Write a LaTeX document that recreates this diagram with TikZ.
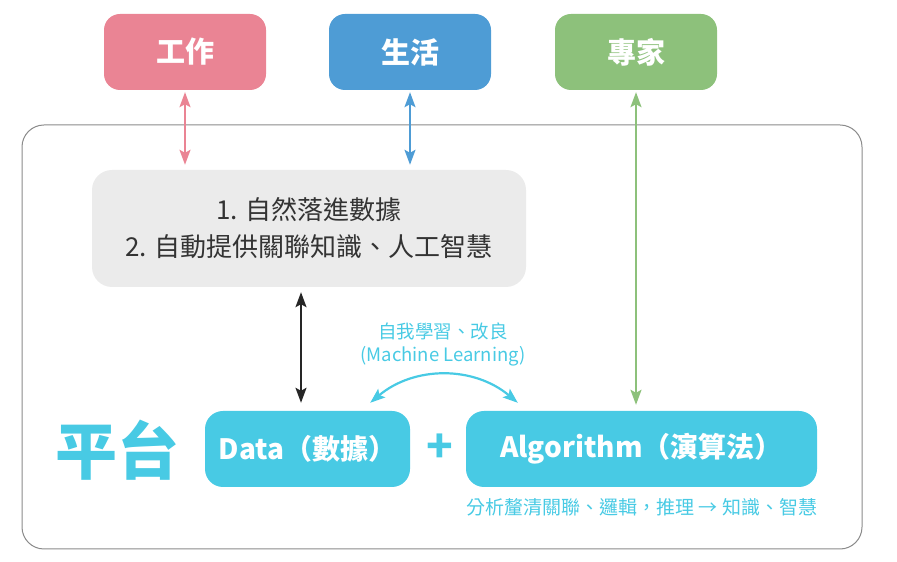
\documentclass[tikz,border=0pt]{standalone}
\usepackage{fontspec}
\setmainfont{Noto Sans CJK TC}
\usetikzlibrary{arrows.meta,positioning}
\definecolor{workpink}{HTML}{EA8494}
\definecolor{lifeblue}{HTML}{4E9CD5}
\definecolor{expertgreen}{HTML}{8DC17B}
\definecolor{platcyan}{HTML}{48CAE4}
\definecolor{greybox}{HTML}{EBEBEB}
\definecolor{framegrey}{HTML}{8A8A8A}

\tikzset{
  topbox/.style={rounded corners=16pt, minimum width=162pt, minimum height=76pt,
    text=white, font=\fontsize{29}{32}\selectfont\bfseries},
  platbox/.style={fill=platcyan, rounded corners=18pt, minimum height=76pt,
    text=white, font=\fontsize{28}{32}\selectfont\bfseries},
  link/.style={line width=2pt, {Stealth[length=15pt,width=11pt,inset=3pt]}-{Stealth[length=15pt,width=11pt,inset=3pt]}}
}

\begin{document}
\begin{tikzpicture}[x=1pt,y=1pt]
\useasboundingbox (0,0) rectangle (897,562);
\draw[framegrey, line width=1pt, rounded corners=22pt] (22,13) rectangle (862,437);

\node[topbox, fill=workpink] (work) at (185,510) {工作};
\node[topbox, fill=lifeblue] (life) at (410,510) {生活};
\node[topbox, fill=expertgreen] (expert) at (636,510) {專家};

\node[fill=greybox, rounded corners=20pt, minimum width=434pt, minimum height=117pt,
  align=center, text=black!80, font=\fontsize{26}{37}\selectfont] (info) at (309,333.5)
  {1. 自然落進數據\\2. 自動提供關聯知識、人工智慧};

\node[platbox, minimum width=205pt] (data) at (307.5,113) {Data（數據）};
\node[platbox, minimum width=351pt] (algo) at (641.5,113) {Algorithm（演算法）};
\node[text=platcyan, font=\fontsize{62}{62}\selectfont\bfseries] (plat) at (117,112) {平台};
\node[text=platcyan, font=\fontsize{44}{44}\selectfont\bfseries] (plus) at (440,114) {+};

\node[text=platcyan, align=center, font=\fontsize{18.5}{23}\selectfont] (ml) at (443,218)
  {自我學習、改良\\(Machine Learning)};
\node[text=platcyan, font=\fontsize{19}{22}\selectfont] (result) at (642,55)
  {分析釐清關聯、邏輯，推理 → 知識、智慧};

% connectors
\draw[link, workpink, shorten <=2pt, shorten >=5pt] (work.south) -- (work.south |- info.north);
\draw[link, lifeblue, shorten <=2pt, shorten >=5pt] (life.south) -- (life.south |- info.north);
\draw[link, expertgreen, shorten <=2pt, shorten >=6pt] (expert.south) -- (expert.south |- algo.north);
\draw[link, black!85, shorten <=5pt, shorten >=8pt] ([xshift=-8pt]info.south) -- ([xshift=-8pt]info.south |- data.north);
\draw[link, platcyan, line width=2.2pt] ([xshift=-40pt,yshift=8pt]data.north east) to[bend left=40] ([xshift=52pt,yshift=8pt]algo.north west);
\end{tikzpicture}
\end{document}
